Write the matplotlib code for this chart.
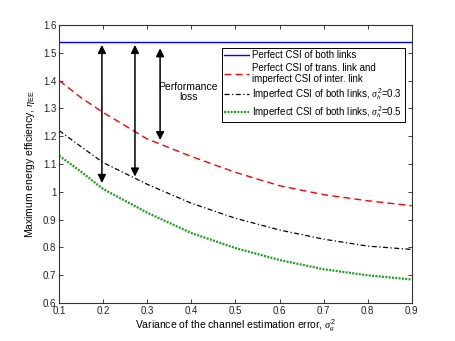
import matplotlib
matplotlib.use('Agg')
import matplotlib.pyplot as plt
import numpy as np

plt.rcParams['font.family'] = ['Liberation Sans', 'DejaVu Sans']
plt.rcParams['mathtext.fontset'] = 'custom'
plt.rcParams['mathtext.it'] = 'Liberation Serif:italic'
plt.rcParams['mathtext.rm'] = 'Liberation Sans'

# data
var_g = [0.1, 0.15, 0.2, 0.3, 0.4, 0.5, 0.6, 0.7, 0.8, 0.9]
perfect_both = [1.54] * len(var_g)
perfect_trans = [1.40, 1.338, 1.285, 1.19, 1.127, 1.07, 1.022, 0.99, 0.968, 0.95]
imperfect_03 = [1.22, 1.162, 1.105, 1.027, 0.959, 0.905, 0.863, 0.83, 0.805, 0.793]
imperfect_05 = [1.13, 1.072, 1.01, 0.925, 0.852, 0.798, 0.755, 0.722, 0.70, 0.685]

# performance-loss arrows: x, top, bottom
arrow_x = [0.197, 0.272, 0.329]
arrow_top = [1.528, 1.528, 1.516]
arrow_bottom = [1.032, 1.055, 1.186]

fig = plt.figure(figsize=(4.55, 3.41), dpi=100)
ax = fig.add_axes([0.130, 0.111, 0.775, 0.816])

ax.plot(var_g, perfect_both, color='#0000ff', lw=1.0, label='Perfect CSI of both links')
ax.plot(var_g, perfect_trans, color='#ff0000', lw=1.0, linestyle=(0, (5, 3)),
        label='Perfect CSI of trans. link and\nimperfect CSI of inter. link')
ax.plot(var_g, imperfect_03, color='black', lw=0.9, linestyle=(0, (4, 2, 1, 2)),
        label=r'Imperfect CSI of both links, $\sigma_h^2$=0.3')
ax.plot(var_g, imperfect_05, color='#1e9e1e', lw=1.6, linestyle=(0, (0.9, 0.6)),
        label=r'Imperfect CSI of both links, $\sigma_h^2$=0.5')

for xa, yt, yb in zip(arrow_x, arrow_top, arrow_bottom):
    ax.annotate('', xy=(xa, yb), xytext=(xa, yt),
                arrowprops=dict(arrowstyle='<|-|>', color='black', lw=1.1,
                                mutation_scale=12, shrinkA=0, shrinkB=0))

ax.text(0.393, 1.359, 'Performance\nloss', ha='center', va='center',
        fontsize=7.5, linespacing=1.0)

ax.set_xlim(0.1, 0.9)
ax.set_ylim(0.6, 1.6)
ax.set_xticks(np.arange(0.1, 0.91, 0.1))
ax.set_xticklabels(['0.1', '0.2', '0.3', '0.4', '0.5', '0.6', '0.7', '0.8', '0.9'])
ax.set_yticks(np.arange(0.6, 1.61, 0.1))
ax.set_yticklabels(['0.6', '0.7', '0.8', '0.9', '1', '1.1', '1.2', '1.3', '1.4', '1.5', '1.6'])
ax.tick_params(direction='in', top=True, right=True, labelsize=7, length=3, width=0.6,
               pad=2, colors='#222222')
for s in ax.spines.values():
    s.set_linewidth(0.8)
    s.set_color('#333333')

ax.set_xlabel(r'Variance of the channel estimation error, $\sigma_g^2$', fontsize=7.5, labelpad=1)
ax.set_ylabel(r'Maximum energy efficiency, $\eta_{\rm EE}$', fontsize=7.5, labelpad=4)

leg = ax.legend(loc='upper right', bbox_to_anchor=(0.98, 0.917), borderaxespad=0,
                fontsize=7.0, handlelength=2.6, handletextpad=0.3, labelspacing=0.22,
                borderpad=0.25, fancybox=False, framealpha=1)
leg.get_frame().set_edgecolor('black')
leg.get_frame().set_linewidth(0.7)

fig.savefig('out.png', dpi=100)
